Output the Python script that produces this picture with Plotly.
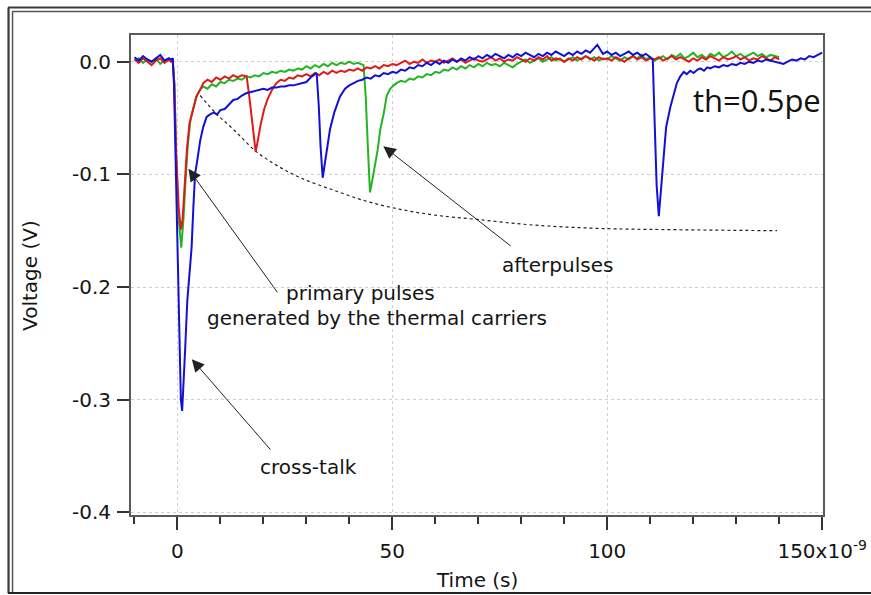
import plotly.graph_objects as go

# time in ns, voltage in mV (axis labels show V and the x10^-9 factor)
RED_T = [-10, -9, -8, -7, -6, -5, -4, -3, -2, -1.5, -1.1,
         -0.7, -0.3, 0.3, 0.8, 1.2, 1.7, 2.2, 2.8, 3.7, 4.4, 5.3, 6, 7, 8, 9, 10, 11, 12, 13, 14, 15, 16.1,
         16.7, 17.4, 18.2, 18.8, 19.4, 20.2, 21, 22, 23, 24, 25, 26, 27, 28, 29, 30, 31, 32, 33, 34, 35,
         36, 37, 38, 39, 40, 41, 42, 43, 44, 45, 46, 47, 48, 49, 50, 51,
         52, 53, 54, 55, 56, 57, 58, 59, 60, 61, 62, 63, 64, 65, 66, 67, 68, 69, 70, 71,
         72, 73, 74, 75, 76, 77, 78, 79, 80, 81, 82, 83, 84, 85, 86, 87, 88, 89, 90, 91,
         92, 93, 94, 95, 96, 97, 98, 99, 100, 101, 102, 103, 104, 105, 106, 107, 108, 109, 110, 111,
         112, 113, 114, 115, 116, 117, 118, 119, 120, 121, 122, 123, 124, 125, 126, 127, 128, 129, 130, 131,
         132, 133, 134, 135, 136, 137, 138, 139, 140]
RED_MV = [2, -1, 3, 0, -3, 1, 3, -1, 2, 0, 1,
          -20, -80, -130, -149, -140, -110, -78, -55, -40, -31, -25, -19, -16, -18, -14, -16, -13, -15, -12, -14, -12, -13,
          -30, -55, -80, -68, -55, -42, -33, -25, -19, -16, -17, -14, -15, -12, -13, -11, -13, -10, -12, -9, -11,
          -8, -10, -8, -9, -7, -8, -6, -8, -5, -6, -4, -6, -3, -4, -2, -3,
          -1, 1, -2, 0, -1, 2, -1, 1, 0, 2, -1, 1, 3, 0, 2, -1, 1, 3, 1, 0,
          2, 4, 1, 3, 0, 2, 1, 4, 2, 0, 3, 1, 4, 2, 5, 1, 3, 2, 0, 3,
          1, 4, 2, 5, 3, 1, 4, 2, 3, 1, 4, 2, 0, 3, 5, 2, 4, 1, 3, 2,
          4, 1, 3, 5, 2, 4, 2, 0, 3, 1, 4, 2, 5, 3, 1, 4, 2, 3, 5, 2,
          4, 1, 3, 2, 5, 3, 1, 4, 2]

GREEN_T = [-10, -9, -8, -7, -6, -5, -4, -3, -2, -1.5, -1.1,
           -0.7, -0.3, 0.3, 0.9, 1.4, 1.9, 2.4, 3, 3.7, 4.4, 5.2, 6, 7, 8, 9, 10, 11, 12, 13, 14, 15,
           16, 17, 18, 19, 20, 21, 22, 23, 24, 25, 26, 27, 28, 29, 30, 31, 32, 33, 34, 35,
           36, 37, 38, 39, 40, 41, 42, 43.3,
           43.8, 44.3, 44.8, 45.4, 46, 46.6, 47.2, 48, 48.7, 49.5, 50.3, 51,
           52, 53, 54, 55, 56, 57, 58, 59, 60, 61, 62, 63, 64, 65, 66, 67, 68, 69, 70, 71,
           72, 73, 74, 75, 76, 77, 78, 79, 80, 81, 82, 83, 84, 85, 86, 87, 88, 89, 90, 91,
           92, 93, 94, 95, 96, 97, 98, 99, 100, 101, 102, 103, 104, 105, 106, 107, 108, 109, 110, 111,
           112, 113, 114, 115, 116, 117, 118, 119, 120, 121, 122, 123, 124, 125, 126, 127, 128, 129, 130, 131,
           132, 133, 134, 135, 136, 137, 138, 139, 140]
GREEN_MV = [1, 3, -1, 2, 0, 3, -2, 1, 3, 1, 2,
            -20, -85, -140, -165, -140, -105, -75, -52, -40, -31, -25, -22, -24, -20, -22, -18, -19, -16, -17, -15, -16,
            -13, -14, -12, -13, -10, -11, -9, -10, -8, -9, -7, -8, -6, -7, -4, -6, -3, -5, -2, -4,
            -1, -3, -1, -2, 0, -2, -1, -3,
            -30, -75, -116, -104, -92, -78, -60, -46, -30, -24, -21, -19,
            -17, -18, -15, -16, -13, -14, -11, -12, -9, -10, -7, -8, -5, -7, -4, -6, -3, -5, -2, -4,
            -1, -3, -2, -4, -1, -3, -5, -2, 0, 2, -1, 1, 3, 0, 2, 4, 1, 3, 0, 2,
            4, 1, 3, 5, 2, 4, 1, 3, 2, 5, 3, 1, 4, 2, 5, 3, 6, 2, 4, 1,
            3, 5, 2, 6, 4, 7, 3, 5, 8, 4, 6, 3, 7, 5, 8, 4, 6, 9, 5, 7,
            4, 6, 8, 5, 7, 4, 6, 5, 4]

BLUE_T = [-10, -9, -8, -7, -6, -5, -4, -3, -2, -1.5, -1.1,
          -0.8, -0.4, 0, 0.4, 0.8, 1.1, 1.4, 1.8, 2.3, 2.8, 3.3, 3.7, 4.1, 4.6, 5.3, 6, 6.8, 7.5, 8.5, 9.2,
          10, 11, 12, 13, 14, 15, 16, 17, 18, 19, 20, 21, 22, 23, 24, 25, 26, 27, 28, 29, 30, 31, 31.7, 32.4,
          32.9, 33.3, 33.8, 34.3, 34.8, 35.5, 36.5, 37.8, 39, 40, 41, 42, 43, 44, 45, 46, 47, 48, 49, 50, 51,
          52, 53, 54, 55, 56, 57, 58, 59, 60, 61, 62, 63, 64, 65, 66, 67, 68, 69, 70, 71,
          72, 73, 74, 75, 76, 77, 78, 79, 80, 81, 82, 83, 84, 85, 86, 87, 88, 89, 90, 91,
          92, 93, 94, 95, 96, 97, 97.7, 98.5, 99, 100, 101, 102, 103, 104, 105, 106, 107, 108, 109, 110, 110.6,
          111, 111.5, 112, 112.6, 113.2, 113.7, 114.7, 115.5, 116.2, 117, 117.8, 118.5, 119.3, 120.1, 121,
          121.7, 122.5, 123.3, 124, 125, 126, 127, 128, 129, 130, 131, 132, 133, 134, 135, 136, 137, 138,
          139, 140, 141, 142, 143, 144, 145, 146, 147, 148, 149, 150]
BLUE_MV = [4, 1, 5, 2, 0, 3, 6, 1, 3, 2, 3,
           -20, -90, -170, -250, -300, -310, -290, -255, -212, -185, -165, -130, -100, -88, -70, -58, -49, -47, -45, -47,
           -43, -42, -38, -34, -33, -30, -28, -27, -26, -25, -24, -25, -23, -23, -22, -22, -21, -21, -20, -19, -18, -14, -12, -10,
           -40, -75, -103, -90, -75, -60, -45, -31, -24, -21, -19, -17, -16, -14, -15, -12, -13, -10, -11, -9, -10,
           -7, -8, -5, -6, -3, -4, -1, -3, 0, -2, 1, -1, 2, 0, 3, 1, 4, 2, 5, 3,
           6, 4, 7, 5, 3, 6, 4, 7, 5, 8, 6, 4, 7, 5, 8, 6, 9, 7, 5, 8,
           6, 9, 7, 10, 8, 12, 15, 10, 7, 9, 6, 8, 5, 7, 9, 6, 8, 5, 7, 4, 2,
           -50, -110, -137, -110, -80, -58, -40, -28, -19, -13, -9, -11, -8, -10, -7,
           -6, -8, -5, -6, -4, -5, -3, -4, -2, -3, -1, -2, 0, -1, 1, 0, 2, 1,
           0, -1, -2, 0, 2, 1, 3, 2, 5, 4, 6, 8]

# dotted envelope curve
ENV_T = [5.3, 9, 13, 18.1, 23.1, 28.6, 36.3, 44.1, 51.8, 59.6, 69.7, 82.9, 98.4, 113.9, 139.5]
ENV_MV = [-30, -46, -60, -79, -92, -103, -114, -124, -131, -136, -140, -145, -148, -149, -150]

X_TICKS = [0, 50, 100, 150]
X_TICK_TEXT = ["0", "50", "100", "150x10<sup>-9</sup>"]
X_MINOR = [-10, 10, 20, 30, 40, 60, 70, 80, 90, 110, 120, 130, 140]
Y_TICKS = [0, -100, -200, -300, -400]
Y_TICK_TEXT = ["0.0", "-0.1", "-0.2", "-0.3", "-0.4"]

AXIS_COLOR = "#5a5a5a"
TICK_COLOR = "#333333"
GRID = dict(showgrid=True, gridcolor="#cfcfcf", griddash="dot", gridwidth=1)

fig = go.Figure()
fig.add_trace(go.Scatter(x=ENV_T, y=ENV_MV, mode="lines", line_shape="spline",
                         line=dict(color="#222222", width=1.2, dash="dot")))
fig.add_trace(go.Scatter(x=GREEN_T, y=GREEN_MV, mode="lines", line=dict(color="#22b522", width=2)))
fig.add_trace(go.Scatter(x=RED_T, y=RED_MV, mode="lines", line=dict(color="#e01a1a", width=2)))
fig.add_trace(go.Scatter(x=BLUE_T, y=BLUE_MV, mode="lines", line=dict(color="#1010d6", width=2)))

fig.update_layout(
    width=871, height=595,
    margin=dict(l=131, r=48, t=35, b=80),
    paper_bgcolor="white", plot_bgcolor="white",
    showlegend=False,
    font=dict(family="DejaVu Sans", size=20, color="#151515"),
)
fig.update_xaxes(
    range=[-10.8, 150.2], tickmode="array", tickvals=X_TICKS, ticktext=X_TICK_TEXT,
    ticks="outside", ticklen=13, tickwidth=1.5, tickcolor=TICK_COLOR,
    minor=dict(tickvals=X_MINOR, ticks="outside", ticklen=7, tickwidth=1.5,
               tickcolor=TICK_COLOR, showgrid=False),
    showline=True, linecolor=AXIS_COLOR, linewidth=2, mirror=True,
    zeroline=False, ticklabelstandoff=4, automargin=False, **GRID,
)
fig.update_yaxes(
    range=[-402.3, 23.7], tickmode="array", tickvals=Y_TICKS, ticktext=Y_TICK_TEXT,
    ticks="outside", ticklen=12, tickwidth=1.5, tickcolor=TICK_COLOR,
    showline=True, linecolor=AXIS_COLOR, linewidth=2, mirror=True,
    zeroline=False, ticklabelstandoff=2, automargin=False, **GRID,
)

# axis titles and labels
text_notes = [
    dict(text="Voltage (V)", x=-0.146, y=0.5, textangle=-90),
    dict(text="Time (s)", x=0.5, y=-0.135),
    dict(text="afterpulses", x=0.617, y=0.521),
    dict(text="primary pulses", x=0.331, y=0.4625),
    dict(text="generated by the thermal carriers", x=0.356, y=0.41),
    dict(text="cross-talk", x=0.256, y=0.10),
]
for n in text_notes:
    fig.add_annotation(xref="paper", yref="paper", xanchor="center", yanchor="middle",
                       showarrow=False, borderpad=0, **n)

fig.add_annotation(text="th=0.5pe", xref="paper", yref="paper", x=0.999, y=0.865,
                   xanchor="right", yanchor="middle", showarrow=False, borderpad=0,
                   font=dict(family="Open Sans", size=31, color="#111111"))

# arrows: tip in data coords, tail as pixel offset
arrows = [
    dict(x=2.56, y=-95, ax=90, ay=125),
    dict(x=3.35, y=-264, ax=80, ay=92),
    dict(x=47.9, y=-75, ax=129, ay=101),
]
for a in arrows:
    fig.add_annotation(text="", showarrow=True, arrowhead=2, arrowsize=2.5, arrowwidth=1,
                       arrowcolor="#222222", standoff=0, **a)

# outer double frame of the original screenshot
frame = [
    dict(x0=-0.1777, x1=1.07, y0=1.0573, y1=1.0573, w=2.2, c="#3a3a3a"),
    dict(x0=-0.1714, x1=1.07, y0=1.049, y1=1.049, w=1.5, c="#555555"),
    dict(x0=-0.1770, x1=-0.1770, y0=-0.163, y1=1.0573, w=2.2, c="#3a3a3a"),
    dict(x0=-0.1712, x1=-0.1712, y0=-0.163, y1=1.049, w=1.5, c="#555555"),
    dict(x0=-0.1777, x1=1.07, y0=-0.1625, y1=-0.1625, w=2, c="#222222"),
]
for f in frame:
    fig.add_shape(type="line", xref="paper", yref="paper", x0=f["x0"], x1=f["x1"],
                  y0=f["y0"], y1=f["y1"], line=dict(color=f["c"], width=f["w"]))

# the page's default body margin would shift the figure by 8px
fig.write_html("out.html", config={"displayModeBar": False},
               post_script="document.body.style.margin='0px';")
